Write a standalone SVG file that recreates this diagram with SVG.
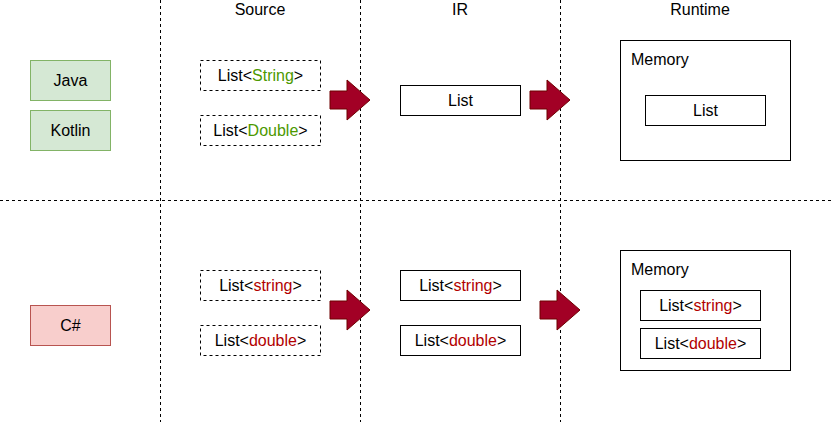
<svg xmlns="http://www.w3.org/2000/svg" width="832" height="422" viewBox="0 0 832 422">
<style>
text{font-family:"Liberation Sans",Arial,Helvetica,sans-serif;font-size:16px;fill:#000}
.c{text-anchor:middle}
.g{fill:#4D9900}
.r{fill:#B20000}
.sep{stroke:#000;stroke-width:1;stroke-dasharray:3 3;fill:none}
.box{fill:#fff;stroke:#000;stroke-width:1}
.dbox{fill:#fff;stroke:#000;stroke-width:1;stroke-dasharray:3 3}
.green{fill:#d5e8d4;stroke:#82b366;stroke-width:1}
.red{fill:#f8cecc;stroke:#b85450;stroke-width:1}
.arrow{fill:#a20025;stroke:#6F0000;stroke-width:1}
</style>
<defs>
<path id="bigarrow" d="M0,11 L17,11 L17,0 L40,20 L17,40 L17,29 L0,29 Z"/>
</defs>
<rect width="832" height="422" fill="#fff"/>
<g id="separators">
<line class="sep" x1="160.5" y1="0" x2="160.5" y2="422"/>
<line class="sep" x1="360.5" y1="0" x2="360.5" y2="422"/>
<line class="sep" x1="560.5" y1="0" x2="560.5" y2="422"/>
<line class="sep" x1="0" y1="200.5" x2="832" y2="200.5"/>
</g>
<g id="headers">
<text class="c" x="260" y="15">Source</text>
<text class="c" x="460" y="15">IR</text>
<text class="c" x="700" y="15">Runtime</text>
</g>
<g id="java"><rect class="green" x="30.5" y="60.5" width="80" height="40"/><text class="c" x="70.5" y="86">Java</text></g>
<g id="kotlin"><rect class="green" x="30.5" y="110.5" width="80" height="40"/><text class="c" x="70.5" y="136">Kotlin</text></g>
<g id="csharp"><rect class="red" x="30.5" y="305.5" width="80" height="40"/><text class="c" x="70.5" y="331">C#</text></g>
<g id="src-list-string"><rect class="dbox" x="200.5" y="60.5" width="120" height="30"/><text class="c" x="260.5" y="81">List&lt;<tspan class="g">String</tspan>&gt;</text></g>
<g id="src-list-double"><rect class="dbox" x="200.5" y="115.5" width="120" height="30"/><text class="c" x="260.5" y="136">List&lt;<tspan class="g">Double</tspan>&gt;</text></g>
<g id="src-cs-string"><rect class="dbox" x="200.5" y="270.5" width="120" height="30"/><text class="c" x="260.5" y="291">List&lt;<tspan class="r">string</tspan>&gt;</text></g>
<g id="src-cs-double"><rect class="dbox" x="200.5" y="325.5" width="120" height="30"/><text class="c" x="260.5" y="346">List&lt;<tspan class="r">double</tspan>&gt;</text></g>
<g id="ir-list"><rect class="box" x="400.5" y="85.5" width="120" height="30"/><text class="c" x="460.5" y="106">List</text></g>
<g id="ir-cs-string"><rect class="box" x="400.5" y="270.5" width="120" height="30"/><text class="c" x="460.5" y="291">List&lt;<tspan class="r">string</tspan>&gt;</text></g>
<g id="ir-cs-double"><rect class="box" x="400.5" y="325.5" width="120" height="30"/><text class="c" x="460.5" y="346">List&lt;<tspan class="r">double</tspan>&gt;</text></g>
<g id="memory-jvm"><rect class="box" x="620.5" y="40.5" width="170" height="120"/><text x="631" y="65">Memory</text></g>
<g id="rt-list"><rect class="box" x="645.5" y="95.5" width="120" height="30"/><text class="c" x="705.5" y="116">List</text></g>
<g id="memory-cs"><rect class="box" x="620.5" y="250.5" width="170" height="120"/><text x="631" y="275">Memory</text></g>
<g id="rt-cs-string"><rect class="box" x="640.5" y="290.5" width="120" height="30"/><text class="c" x="700.5" y="311">List&lt;<tspan class="r">string</tspan>&gt;</text></g>
<g id="rt-cs-double"><rect class="box" x="640.5" y="328.5" width="120" height="30"/><text class="c" x="700.5" y="349">List&lt;<tspan class="r">double</tspan>&gt;</text></g>
<g id="connectors">
<use href="#bigarrow" class="arrow" x="330" y="80"/>
<use href="#bigarrow" class="arrow" x="530" y="80"/>
<use href="#bigarrow" class="arrow" x="330" y="290"/>
<use href="#bigarrow" class="arrow" x="540" y="290"/>
</g>
</svg>
